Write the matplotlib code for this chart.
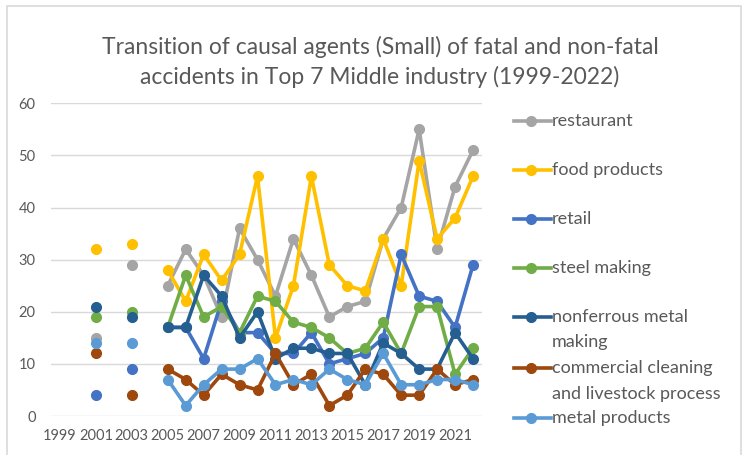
import numpy as np
import matplotlib
matplotlib.use('Agg')
import matplotlib.pyplot as plt
from matplotlib.lines import Line2D
from matplotlib.patches import Rectangle

nan = np.nan

# data
years = list(range(1999, 2023))
restaurant = [nan, nan, 15, nan, 29, nan, 25, 32, 27, 19, 36, 30, 23, 34, 27, 19, 21, 22, 34, 40, 55, 32, 44, 51]
food_products = [nan, nan, 32, nan, 33, nan, 28, 22, 31, 26, 31, 46, 15, 25, 46, 29, 25, 24, 34, 25, 49, 34, 38, 46]
retail = [nan, nan, 4, nan, 9, nan, 17, 17, 11, 22, 16, 16, 12, 12, 16, 10, 11, 12, 15, 31, 23, 22, 17, 29]
steel_making = [nan, nan, 19, nan, 20, nan, 17, 27, 19, 21, 16, 23, 22, 18, 17, 15, 12, 13, 18, 12, 21, 21, 8, 13]
nonferrous = [nan, nan, 21, nan, 19, nan, 17, 17, 27, 23, 15, 20, 11, 13, 13, 12, 12, 6, 14, 12, 9, 9, 16, 11]
commercial = [nan, nan, 12, nan, 4, nan, 9, 7, 4, 8, 6, 5, 12, 6, 8, 2, 4, 9, 8, 4, 4, 9, 6, 7]
metal_products = [nan, nan, 14, nan, 14, nan, 7, 2, 6, 9, 9, 11, 6, 7, 6, 9, 7, 6, 12, 6, 6, 7, 7, 6]

labels = ['restaurant', 'food products', 'retail', 'steel making',
          'nonferrous metal\nmaking', 'commercial cleaning\nand livestock process',
          'metal products']
series = [restaurant, food_products, retail, steel_making, nonferrous, commercial, metal_products]
colors = ['#A5A5A5', '#FFC000', '#4472C4', '#70AD47', '#255E91', '#9E480E', '#5B9BD5']

TXT = '#595959'
W, H = 743, 455
plt.rcParams['font.family'] = ['Lato', 'DejaVu Sans']


def fx(px):
    return px / W


def fy(py):
    return 1 - py / H


fig = plt.figure(figsize=(W / 100, H / 100), dpi=100)
ax = fig.add_axes([fx(51), fy(416), fx(482) - fx(51), fy(103.3) - fy(416)])

x = np.arange(len(years))
for vals, c in zip(series, colors):
    ax.plot(x, vals, color=c, lw=2.6, marker='o', ms=7, solid_joinstyle='round')

ax.set_xlim(-0.5, len(years) - 0.5)
ax.set_ylim(0, 60)
ax.set_yticks(range(0, 61, 10))
ax.set_xticks(x[::2])
ax.set_xticklabels([str(y) for y in years[::2]])
ax.grid(axis='y', color='#D9D9D9', lw=1)
ax.set_axisbelow(True)
for s in ax.spines.values():
    s.set_visible(False)
ax.tick_params(axis='both', length=0, labelsize=10.5, labelcolor=TXT)
ax.tick_params(axis='x', pad=9)
ax.tick_params(axis='y', pad=11)

title_lines = ['Transition of causal agents (Small) of fatal and non-fatal',
               'accidents in Top 7 Middle industry (1999-2022)']
for i, t in enumerate(title_lines):
    fig.text(fx(380), fy(47 + i * 30), t, ha='center', va='center',
             fontsize=16.5, color=TXT)

# legend drawn by hand to match the wrapped layout
leg_y = [121, 170, 219, 268, 317, 368, 418]
for lab, c, ly in zip(labels, colors, leg_y):
    fig.add_artist(Line2D([fx(514), fx(551)], [fy(ly), fy(ly)], color=c, lw=2.6,
                          transform=fig.transFigure))
    fig.add_artist(Line2D([fx(531)], [fy(ly)], color=c, marker='o', ms=7,
                          transform=fig.transFigure))
    for j, part in enumerate(lab.split('\n')):
        fig.text(fx(552), fy(ly + j * 25.5), part, ha='left', va='center',
                 fontsize=13, color=TXT)

fig.add_artist(Rectangle((fx(7), fy(470)), fx(741) - fx(7), fy(6) - fy(470),
                         transform=fig.transFigure, fill=False, ec='#D9D9D9', lw=1.2))

fig.savefig('out.png', dpi=100)
